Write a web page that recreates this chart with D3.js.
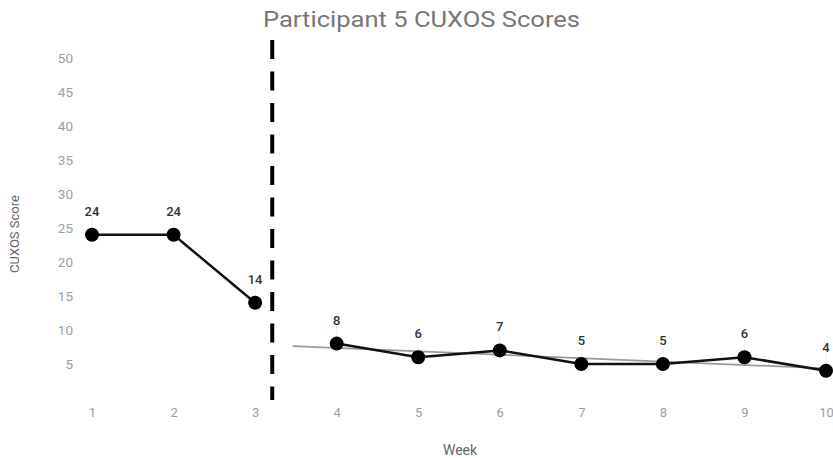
<!DOCTYPE html>
<html><head><meta charset="utf-8">
<script src="https://cdn.jsdelivr.net/npm/d3@7"></script>
<style>body{margin:0;background:#fff}svg{display:block}text{font-family:Roboto,"Noto Sans",sans-serif}</style>
</head><body><svg id="c" width="833" height="458"></svg>
<script>
const weeks = [1,2,3,4,5,6,7,8,9,10];
const scores = [24,24,14,8,6,7,5,5,6,4];
const phases = [[1,2,3],[4,5,6,7,8,9,10]];
const yTicks = [5,10,15,20,25,30,35,40,45,50];
const title = "Participant 5 CUXOS Scores";
const xTitle = "Week";
const yTitle = "CUXOS Score";
const phaseBreak = 3.21;
const trendRange = [3.46, 10];

const svg = d3.select("#c");
const x = d3.scaleLinear().domain([1,10]).range([92,826]);
const y = d3.scaleLinear().domain([0,50]).range([398,58]);
const val = w => scores[weeks.indexOf(w)];

svg.append("text").attr("x",421.5).attr("y",27).attr("text-anchor","middle")
  .attr("font-size",21.5).attr("fill","#777").attr("textLength",317).attr("lengthAdjust","spacingAndGlyphs").text(title);

const yAxis = d3.axisLeft(y).tickValues(yTicks).tickSize(0).tickPadding(0);
const gy = svg.append("g").attr("transform","translate(73,0)").call(yAxis);
gy.select(".domain").remove();
gy.selectAll("text").attr("font-size",13.5).attr("fill","#a0a0a0").attr("font-family","Roboto").attr("dy","0.35em");

const xAxis = d3.axisBottom(x).tickValues(weeks).tickSize(0).tickPadding(0);
const gx = svg.append("g").attr("transform","translate(0,408)").call(xAxis);
gx.select(".domain").remove();
gx.selectAll("text").attr("font-size",13).attr("fill","#a0a0a0").attr("font-family","Roboto").attr("dy","0.71em");

svg.append("text").attr("x",460).attr("y",455).attr("text-anchor","middle")
  .attr("font-size",14).attr("fill","#666").text(xTitle);
svg.append("text").attr("transform","translate(19,234) rotate(-90)").attr("text-anchor","middle")
  .attr("font-size",13.5).attr("fill","#666").attr("textLength",78).attr("lengthAdjust","spacingAndGlyphs").text(yTitle);

// phase change line
svg.append("line").attr("x1",x(phaseBreak)).attr("x2",x(phaseBreak)).attr("y1",40).attr("y2",400)
  .attr("stroke","#000").attr("stroke-width",4).attr("stroke-dasharray","19,12.5");

// trendline (least squares over phase 2)
const p2 = phases[1];
const mx = d3.mean(p2), my = d3.mean(p2, val);
const slope = d3.sum(p2, w => (w-mx)*(val(w)-my)) / d3.sum(p2, w => (w-mx)*(w-mx));
const fit = w => my + slope*(w-mx);
svg.append("line").attr("x1",x(trendRange[0])).attr("y1",y(fit(trendRange[0])))
  .attr("x2",x(trendRange[1])).attr("y2",y(fit(trendRange[1])))
  .attr("stroke","#9a9a9a").attr("stroke-width",1.8);

const line = d3.line().x(w=>x(w)).y(w=>y(val(w)));
phases.forEach(p => {
  svg.append("path").attr("d",line(p)).attr("fill","none").attr("stroke","#111").attr("stroke-width",2.5);
});

// label connectors
svg.selectAll(".conn").data(weeks).enter().append("line")
  .attr("x1",w=>x(w)).attr("x2",w=>x(w)).attr("y1",w=>y(val(w))-17).attr("y2",w=>y(val(w))-6)
  .attr("stroke","#ececec").attr("stroke-width",1);

svg.selectAll(".pt").data(weeks).enter().append("circle")
  .attr("cx",w=>x(w)).attr("cy",w=>y(val(w))).attr("r",7).attr("fill","#000");

svg.selectAll(".lbl").data(weeks).enter().append("text")
  .attr("x",w=>x(w)).attr("y",w=>y(val(w))-19).attr("text-anchor","middle")
  .attr("font-size",13).attr("font-weight",500).attr("fill","#333").text(w=>val(w));
</script></body></html>
